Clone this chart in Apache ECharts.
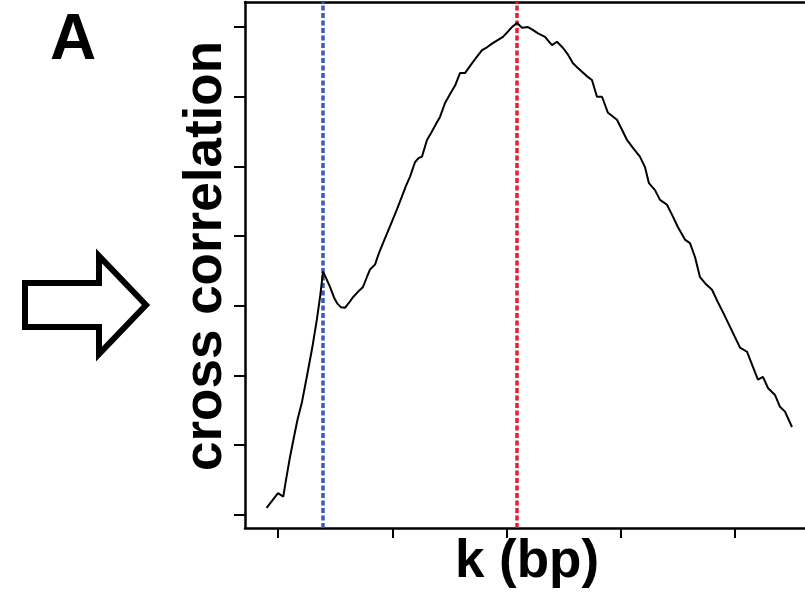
<!DOCTYPE html>
<html>
<head>
<meta charset="utf-8">
<script src="https://cdn.jsdelivr.net/npm/echarts@6/dist/echarts.min.js"></script>
<style>
html,body{margin:0;padding:0;background:#fff;}
#chart{width:805px;height:594px;}
</style>
</head>
<body>
<div id="chart"></div>
<script>
// strand shift k (bp) and cross-correlation (arbitrary units)
const kValues = [-10, 0, 4.6, 7, 10.5, 14, 17, 21, 26, 30, 34, 37, 39.4, 42, 45.5, 49, 52, 55, 58.6, 62, 66, 70, 74.4, 78, 80.5, 84.9, 88, 91.9, 96, 100, 104, 108, 112, 115.5, 119.9, 123, 126, 130.4, 134, 138, 141.8, 146.2, 150, 155, 159.3, 163.7, 168, 173, 178.6, 182.9, 188, 193, 196.9, 201, 204.8, 209.2, 213.6, 218.8, 223, 227.6, 233.7, 239.8, 244.2, 249.5, 254, 258.2, 262, 266.1, 270, 274.8, 279.2, 283.6, 288.8, 292, 296.7, 301, 305.5, 310, 316.8, 321.2, 324.7, 330, 334.4, 340.5, 345.7, 350, 356.2, 360.6, 365, 369.4, 374, 379.9, 384.2, 390, 395.6, 400, 404.4, 410.5, 415.8, 420.1, 424.5, 428.9, 435, 439.4, 443.8, 449.9];
const corrValues = [0.10, 0.31, 0.26, 0.50, 0.83, 1.12, 1.36, 1.62, 2.05, 2.40, 2.80, 3.15, 3.49, 3.40, 3.27, 3.12, 3.03, 2.98, 2.97, 3.04, 3.13, 3.20, 3.27, 3.42, 3.52, 3.59, 3.74, 3.90, 4.06, 4.22, 4.38, 4.55, 4.72, 4.85, 5.06, 5.12, 5.14, 5.38, 5.48, 5.60, 5.71, 5.91, 6.02, 6.16, 6.34, 6.34, 6.44, 6.55, 6.67, 6.71, 6.77, 6.82, 6.86, 6.93, 7.00, 7.06, 6.99, 7.00, 6.96, 6.91, 6.86, 6.74, 6.79, 6.70, 6.60, 6.48, 6.42, 6.36, 6.30, 6.24, 6.00, 6.00, 5.77, 5.73, 5.67, 5.53, 5.38, 5.28, 5.14, 4.99, 4.76, 4.66, 4.52, 4.45, 4.28, 4.13, 3.95, 3.90, 3.70, 3.41, 3.32, 3.23, 3.08, 2.89, 2.70, 2.55, 2.40, 2.34, 2.12, 1.94, 1.98, 1.82, 1.72, 1.55, 1.48, 1.26];
const xTicks = [0, 100, 200, 300, 400];
const yTicks = [0, 1, 2, 3, 4, 5, 6, 7];
const readShift = 39.4;   // blue dotted line (phantom peak)
const fragShift = 209.2;  // red dotted line (fragment length peak)

const seriesData = kValues.map((k, i) => [k, corrValues[i]]);

const chart = echarts.init(document.getElementById('chart'), null, {renderer: 'canvas'});
const FONT = '"Liberation Sans", Arial, sans-serif';
const X_MIN = -28.9, X_MAX = 461.3;

chart.setOption({
  animation: false,
  backgroundColor: '#ffffff',
  grid: {left: 245, top: 2, right: 0, bottom: 66, show: false},
  xAxis: [{
    type: 'value', min: X_MIN, max: X_MAX, position: 'bottom',
    axisLine: {show: true, onZero: false, lineStyle: {color: '#000', width: 2.5}},
    axisTick: {show: true, inside: false, length: 10, customValues: xTicks, lineStyle: {color: '#000', width: 2}},
    axisLabel: {show: false, customValues: xTicks},
    splitLine: {show: false}
  }, {
    type: 'value', min: X_MIN, max: X_MAX, position: 'top',
    axisLine: {show: true, onZero: false, lineStyle: {color: '#000', width: 2.5}},
    axisTick: {show: false},
    axisLabel: {show: false},
    splitLine: {show: false}
  }],
  yAxis: {
    type: 'value', min: -0.19, max: 7.36,
    axisLine: {show: true, onZero: false, lineStyle: {color: '#000', width: 2.5}},
    axisTick: {show: true, inside: false, length: 11, customValues: yTicks, lineStyle: {color: '#000', width: 2}},
    axisLabel: {show: false, customValues: yTicks},
    splitLine: {show: false}
  },
  series: [{
    type: 'line',
    xAxisIndex: 0,
    data: seriesData,
    showSymbol: false,
    symbol: 'none',
    lineStyle: {color: '#000', width: 2},
    z: 3,
    markLine: {
      silent: true,
      symbol: ['none', 'none'],
      label: {show: false},
      z: 2,
      data: [
        {xAxis: readShift, lineStyle: {color: '#3a58c0', width: 3.5, type: [5, 2.5]}},
        {xAxis: fragShift, lineStyle: {color: '#e3202f', width: 3.5, type: [5, 2.5]}}
      ]
    }
  }],
  graphic: [
    {
      type: 'text', left: 50, top: 9,
      style: {text: 'A', fill: '#000', font: 'bold 64px ' + FONT}
    },
    {
      type: 'text', x: 206, y: 256, rotation: Math.PI / 2,
      style: {text: 'cross correlation', fill: '#000', font: 'bold 53px ' + FONT, align: 'center', verticalAlign: 'middle'}
    },
    {
      type: 'text', x: 527, y: 562,
      style: {text: 'k (bp)', fill: '#000', font: 'bold 53px ' + FONT, align: 'center', verticalAlign: 'middle'}
    },
    {
      type: 'polygon',
      shape: {points: [[25, 283], [99, 283], [99, 256], [146, 305], [99, 354], [99, 327], [25, 327]]},
      style: {fill: '#fff', stroke: '#000', lineWidth: 6, lineJoin: 'miter'}
    }
  ]
});
</script>
</body>
</html>
